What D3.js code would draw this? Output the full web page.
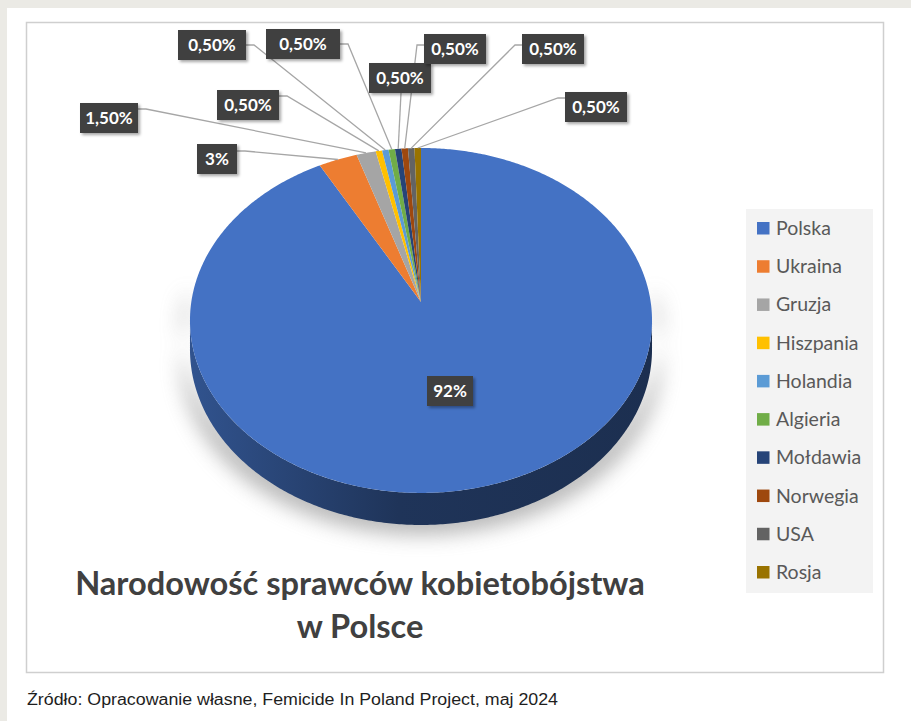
<!DOCTYPE html>
<html>
<head>
<meta charset="utf-8">
<script src="https://cdn.jsdelivr.net/npm/d3@7"></script>
<style>
  html, body { margin: 0; padding: 0; background: #ebeae5; }
  svg { display: block; }
</style>
</head>
<body>
<svg id="chart" width="911" height="721"></svg>
<script>
// data
var countries = ['Polska', 'Ukraina', 'Gruzja', 'Hiszpania', 'Holandia', 'Algieria', 'Mołdawia', 'Norwegia', 'USA', 'Rosja'];
var shares = [92, 3, 1.5, 0.5, 0.5, 0.5, 0.5, 0.5, 0.5, 0.5];
var shareLabels = ['92%', '3%', '1,50%', '0,50%', '0,50%', '0,50%', '0,50%', '0,50%', '0,50%', '0,50%'];
var colors = ['#4472c4', '#ed7d31', '#a5a5a5', '#ffc000', '#5b9bd5', '#70ad47', '#264478', '#9e480e', '#636363', '#997300'];
var titleLines = ['Narodowość sprawców kobietobójstwa', 'w Polsce'];
var sourceText = 'Źródło: Opracowanie własne, Femicide In Poland Project, maj 2024';

// label boxes placement (layout only)
var labelLayout = [
  {x: 450, y: 391, w: 46, side: null},
  {x: 217, y: 159, w: 40, side: 'right', ay: 151},
  {x: 109, y: 118, w: 58, side: 'right', ay: 109},
  {x: 248, y: 105, w: 62, side: 'right', ay: 96},
  {x: 212, y: 45, w: 68, side: 'right', ay: 45},
  {x: 303, y: 44, w: 74, side: 'right', ay: 44},
  {x: 400, y: 78, w: 62, side: 'bottom'},
  {x: 455, y: 49, w: 62, side: 'left', ay: 45},
  {x: 553, y: 49, w: 62, side: 'left', ay: 45},
  {x: 596, y: 107, w: 62, side: 'left', ay: 98}
];

var svg = d3.select('#chart'),
    width = +svg.attr('width'),
    height = +svg.attr('height');

var defs = svg.append('defs');

defs.append('filter').attr('id', 'blur')
  .attr('x', '-20%').attr('y', '-30%').attr('width', '140%').attr('height', '180%')
  .append('feGaussianBlur').attr('stdDeviation', 10);

var ds = defs.append('filter').attr('id', 'boxShadow')
  .attr('x', '-20%').attr('y', '-20%').attr('width', '150%').attr('height', '160%');
ds.append('feDropShadow').attr('dx', 2).attr('dy', 2).attr('stdDeviation', 1.5)
  .attr('flood-color', '#000').attr('flood-opacity', 0.35);

// page + frame
svg.append('rect').attr('width', width).attr('height', height).attr('fill', '#ebeae5');
svg.append('rect').attr('x', 7).attr('y', 8).attr('width', width - 7).attr('height', height - 8).attr('fill', '#fff');
svg.append('rect')
  .attr('x', 26.5).attr('y', 22.5).attr('width', 857).attr('height', 650)
  .attr('fill', 'none').attr('stroke', '#cfcfcf').attr('stroke-width', 1.5);

// 3D pie geometry: unit disc projected with a light perspective
var cx = 421, cy = 302, R = 229.7, A = 170.5, k = 0.107, depth = 28.6;
var xScale = d3.scaleLinear().domain([-1, 1]).range([cx - R, cx + R]);
var yScale = d3.scaleLinear().domain([-1, 1]).range([cy - A, cy + A]);

function persp(a, r) {
  var v = -r * Math.cos(a);
  return 1 / (1 - k * v);
}
function proj(a, r) {
  var u = r * Math.sin(a), v = -r * Math.cos(a), s = 1 / (1 - k * v);
  return [xScale(u * s), yScale(v * s)];
}
function arcPoints(a0, a1, r, drop) {
  var n = Math.max(2, Math.ceil(Math.abs(a1 - a0) / 0.01)), pts = [];
  for (var i = 0; i <= n; i++) {
    var a = a0 + (a1 - a0) * i / n, p = proj(a, r);
    if (drop) p[1] += depth * persp(a, r);
    pts.push(p);
  }
  return pts;
}

var line = d3.line();
var arcs = d3.pie().sort(null).value(function (d) { return d; })(shares);

// visible part of the rim
var aRight = Math.acos(-k), aLeft = 2 * Math.PI - aRight;

var g = svg.append('g');

arcs.forEach(function (d, i) {
  var lo = Math.max(d.startAngle, aRight), hi = Math.min(d.endAngle, aLeft);
  if (lo >= hi) return;
  var pts = arcPoints(lo, hi, 1, false).concat(arcPoints(hi, lo, 1, true));

  // soft shadow under the rim
  var sh = arcPoints(lo - 0.25, hi + 0.25, 1, false).concat(arcPoints(hi + 0.25, lo - 0.25, 1, true));
  g.append('path')
    .attr('d', line(sh.map(function (p) { return [cx + (p[0] - cx) * 1.04, p[1] + 10]; })) + 'Z')
    .attr('fill', '#8a8a8a').attr('opacity', 0.6)
    .attr('filter', 'url(#blur)');

  var base = d3.color(colors[i]);
  var grad = defs.append('linearGradient').attr('id', 'side' + i)
    .attr('gradientUnits', 'userSpaceOnUse')
    .attr('x1', xScale(-1)).attr('x2', xScale(1)).attr('y1', 0).attr('y2', 0);
  grad.append('stop').attr('offset', '0%').attr('stop-color', base.darker(0.9));
  grad.append('stop').attr('offset', '45%').attr('stop-color', base.darker(2.2));
  grad.append('stop').attr('offset', '100%').attr('stop-color', base.darker(2.5));

  g.append('path')
    .attr('d', line(pts) + 'Z')
    .attr('fill', 'url(#side' + i + ')');
});

// top faces
g.selectAll('path.slice')
  .data(arcs)
  .enter()
  .append('path')
  .attr('class', 'slice')
  .attr('d', function (d) {
    return line([proj(0, 0)].concat(arcPoints(d.startAngle, d.endAngle, 1, false))) + 'Z';
  })
  .attr('fill', function (d, i) { return colors[i]; });

// leader lines
var boxH = 30;
var leaders = svg.append('g');
arcs.forEach(function (d, i) {
  var L = labelLayout[i];
  if (!L.side) return;
  var anchor = proj((d.startAngle + d.endAngle) / 2, 1), pts;
  if (L.side === 'right') {
    pts = [[L.x + L.w / 2, L.ay], [L.x + L.w / 2 + 8, L.ay], anchor];
  } else if (L.side === 'left') {
    pts = [[L.x - L.w / 2, L.ay], [L.x - L.w / 2 - 7, L.ay], anchor];
  } else {
    pts = [[L.x + 1, L.y + boxH / 2], anchor];
  }
  leaders.append('path')
    .attr('d', line(pts))
    .attr('fill', 'none')
    .attr('stroke', '#a6a6a6')
    .attr('stroke-width', 1.3);
});

// label boxes
var labels = svg.append('g').selectAll('g')
  .data(arcs)
  .enter()
  .append('g')
  .attr('transform', function (d, i) { return 'translate(' + labelLayout[i].x + ',' + labelLayout[i].y + ')'; });

labels.append('rect')
  .attr('x', function (d, i) { return -labelLayout[i].w / 2; })
  .attr('y', -boxH / 2)
  .attr('width', function (d, i) { return labelLayout[i].w; })
  .attr('height', boxH)
  .attr('fill', '#404040')
  .attr('filter', 'url(#boxShadow)');

labels.append('text')
  .attr('text-anchor', 'middle')
  .attr('dy', '0.36em')
  .attr('fill', '#fff')
  .style('font', 'bold 17px Lato, "Open Sans", sans-serif')
  .text(function (d, i) { return shareLabels[i]; });

// legend
var legend = svg.append('g');
legend.append('rect')
  .attr('x', 746).attr('y', 209).attr('width', 127).attr('height', 384)
  .attr('fill', '#f3f3f3');

var legY = d3.scalePoint().domain(countries).range([228, 572]);

var item = legend.selectAll('g.item')
  .data(countries)
  .enter()
  .append('g')
  .attr('class', 'item')
  .attr('transform', function (d) { return 'translate(757,' + legY(d) + ')'; });

item.append('rect')
  .attr('y', -6).attr('width', 12.5).attr('height', 12.5)
  .attr('fill', function (d, i) { return colors[i]; });

item.append('text')
  .attr('x', 19).attr('dy', '0.36em')
  .attr('fill', '#595959')
  .style('font', '19.5px Lato, "Open Sans", sans-serif')
  .text(function (d) { return d; });

// title
var title = svg.append('g');
var t1 = title.append('text')
  .attr('x', 360).attr('y', 595)
  .attr('text-anchor', 'middle')
  .attr('fill', '#404040')
  .style('font-family', 'Lato, "Open Sans", sans-serif')
  .style('font-weight', 'bold')
  .style('font-size', '30px')
  .text(titleLines[0]);
var fs = 30 * 570 / t1.node().getComputedTextLength();
t1.style('font-size', fs + 'px');
title.append('text')
  .attr('x', 360).attr('y', 638)
  .attr('text-anchor', 'middle')
  .attr('fill', '#404040')
  .style('font-family', 'Lato, "Open Sans", sans-serif')
  .style('font-weight', 'bold')
  .style('font-size', fs + 'px')
  .text(titleLines[1]);

// source note
var src = svg.append('text')
  .attr('x', 27).attr('y', 705)
  .attr('fill', '#1e1e1e')
  .style('font', '16px "Liberation Sans", Arial, sans-serif')
  .text(sourceText);
if (Math.abs(src.node().getComputedTextLength() - 531) > 4) {
  src.attr('textLength', 531).attr('lengthAdjust', 'spacingAndGlyphs');
}
</script>
</body>
</html>
